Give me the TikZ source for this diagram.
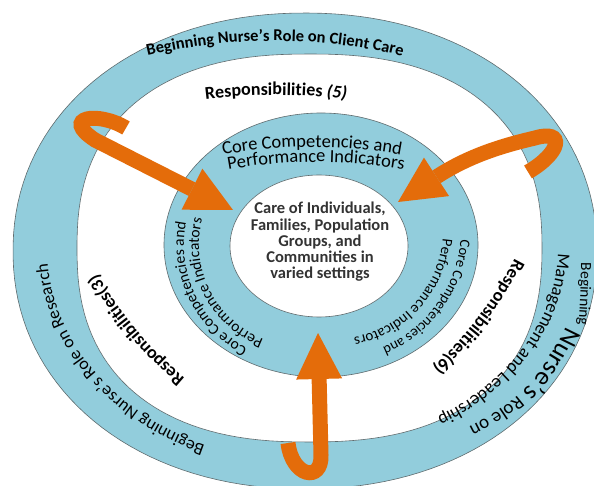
\documentclass[tikz,border=0pt]{standalone}
\usepackage{fontspec}
\setmainfont{Carlito}
\usetikzlibrary{arrows.meta,decorations.text}
\definecolor{ringblue}{HTML}{92CDDC}
\definecolor{arroworange}{HTML}{E46C0A}
\definecolor{edgegray}{HTML}{5F6B6E}
\begin{document}
\begin{tikzpicture}[x=1pt,y=1pt,
  ring/.style={fill=ringblue,draw=edgegray,line width=0.6pt},
  hole/.style={fill=white,draw=edgegray,line width=0.6pt},
  bigarrow/.style={draw=arroworange,line width=15pt,-{Triangle[width=46pt,length=46pt,line width=0pt]}},
  arctext/.style={decorate,decoration={text along path,text align=center,text={#1}}},
  lefttext/.style={decorate,decoration={text along path,text align=left,text={#1}}},
]
\useasboundingbox (0,0) rectangle (594,485);
% rings
\draw[ring] plot[domain=0.5:359.5,samples=150,variable=\t]
  ({305+292*cos(\t)*pow(abs(cos(\t)),2/2.1-1)},{234+238*sin(\t)*pow(abs(sin(\t)),2/2.1-1)}) -- cycle;
\draw[hole] plot[domain=0.5:359.5,samples=150,variable=\t]
  ({309.5+232.5*cos(\t)*pow(abs(cos(\t)),2/2.4-1)},{237+194*sin(\t)*pow(abs(sin(\t)),2/2.4-1)}) -- cycle;
\draw[ring] (321,240) ellipse [x radius=157, y radius=132];
\draw[hole] (319,239) ellipse [x radius=89, y radius=71];
% arrows
\coordinate (a1t) at (126,357); \coordinate (a1b) at (95,345); \coordinate (a1h) at (233,275);
\draw[bigarrow] (a1t) .. controls (98,374) and (60,368) .. (a1b) -- (a1h);
\coordinate (a2t) at (528,313); \coordinate (a2m) at (535,347); \coordinate (a2h) at (398,283);
\draw[bigarrow] (a2t) .. controls (562,333) and (565,356) .. (a2m) .. controls (505,340) and (470,330) .. (a2h);
\coordinate (a3t) at (288,42); \coordinate (a3b) at (321,30); \coordinate (a3h) at (318,152);
\draw[bigarrow] (a3t) .. controls (292,8) and (322,2) .. (a3b) -- (a3h);
% outer band texts
\path[arctext={|\bfseries\fontsize{16.5}{16.5}\selectfont|Beginning Nurse’s Role on Client Care}]
  ([shift={(115:550)}]275,-106) arc[start angle=115,end angle=65,radius=550];
\path[arctext={|\fontsize{17.5}{17.5}\selectfont|Beginning Nurse’s Role on Research}]
  ([shift={(255:258 and 214)}]305,237) arc[start angle=255,end angle=175,x radius=258,y radius=214];
\path[lefttext={|\fontsize{15.5}{15.5}\selectfont|Beginning}]
  (581,222) .. controls (581,200) and (580,175) .. (577,140);
\path[lefttext={|\fontsize{26}{26}\selectfont|Nurse’s |\fontsize{19}{19}\selectfont|Role on}]
  (566,159) .. controls (556,137) and (540,110) .. (522,93) .. controls (505,78) and (485,64) .. (440,45);
\path[lefttext={|\fontsize{18}{18}\selectfont|Management and Leadership}]
  ([shift={(-1.5:253 and 198)}]305,237) arc[start angle=-1.5,end angle=-80,x radius=253,y radius=198];
% white band texts
\path[arctext={|\bfseries\fontsize{18}{18}\selectfont|Responsibilities |\bfseries\itshape\fontsize{18}{18}\selectfont|(5)}]
  ([shift={(105:600)}]276,-210) arc[start angle=105,end angle=75,radius=600];
\path[arctext={|\bfseries\fontsize{18}{18}\selectfont|Responsibilities(3)}]
  ([shift={(240:400)}]443,412) arc[start angle=240,end angle=200,radius=400];
\path[arctext={|\bfseries\fontsize{18}{18}\selectfont|Responsibilities(6)}]
  ([shift={(-17:400)}]159,409) arc[start angle=-17,end angle=-57,radius=400];
% inner ring texts
\path[arctext={|\fontsize{18.5}{18.5}\selectfont|Core Competencies and}]
  ([shift={(105:500)}]312,-162) arc[start angle=105,end angle=75,radius=500];
\path[arctext={|\fontsize{18.5}{18.5}\selectfont|Performance Indicators}]
  ([shift={(105:500)}]316,-177) arc[start angle=105,end angle=75,radius=500];
\path[arctext={|\fontsize{15.5}{15.5}\selectfont|Core Competencies and}]
  ([shift={(256:116)}]300,240) arc[start angle=256,end angle=156,radius=116];
\path[arctext={|\fontsize{15.5}{15.5}\selectfont|Performance Indicators}]
  ([shift={(257:101)}]300,240) arc[start angle=257,end angle=157,radius=101];
\path[arctext={|\fontsize{14.5}{14.5}\selectfont|Core Competencies and}]
  ([shift={(14:127)}]334,255) arc[start angle=14,end angle=-86,radius=127];
\path[arctext={|\fontsize{15}{15}\selectfont|Performance Indicators}]
  ([shift={(8:109)}]334,255) arc[start angle=8,end angle=-92,radius=109];
% centre
\node[align=center,text=black!80,font=\bfseries\fontsize{16.5}{16.3}\selectfont] (ctr) at (320,243)
  {Care of Individuals,\\Families, Population\\Groups, and\\Communities in\\varied settings};
\end{tikzpicture}
\end{document}
